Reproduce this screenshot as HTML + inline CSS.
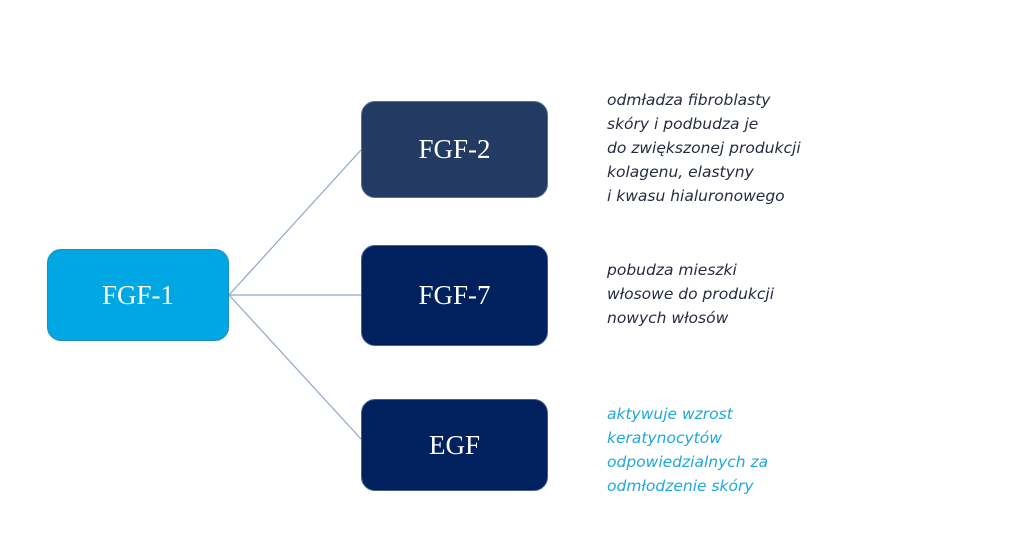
<!DOCTYPE html>
<html><head><meta charset="utf-8"><style>
body{margin:0;width:1024px;height:545px;background:#fff;position:relative;overflow:hidden;font-family:"Liberation Serif",serif}
.b{position:absolute;border-radius:14px;color:#fff;font-size:27px;display:flex;align-items:center;justify-content:center;box-sizing:border-box}
.t{position:absolute;left:607px;font-family:"DejaVu Sans","Liberation Sans",sans-serif;font-style:italic;font-size:15.5px;line-height:24px;color:#262c40}
</style></head><body>
<svg width="1024" height="545" style="position:absolute;left:0;top:0">
<g stroke="#8fa6c8" stroke-width="1.2">
<line x1="229" y1="295" x2="361" y2="150"/>
<line x1="229" y1="295" x2="361" y2="295"/>
<line x1="229" y1="295" x2="361" y2="439"/>
</g></svg>
<div class="b" style="left:47px;top:249px;width:182px;height:92px;background:#00a7e3;border:1px solid #1b8fbf">FGF-1</div>
<div class="b" style="left:361px;top:101px;width:187px;height:97px;background:#233a63;border:1px solid #5a6f95">FGF-2</div>
<div class="b" style="left:361px;top:245px;width:187px;height:101px;background:#00215e;border:1px solid #4a5f8c">FGF-7</div>
<div class="b" style="left:361px;top:399px;width:187px;height:92px;background:#00215e;border:1px solid #4a5f8c">EGF</div>
<div class="t" style="top:88px">odmładza fibroblasty<br>skóry i podbudza je<br>do zwiększonej produkcji<br>kolagenu, elastyny<br>i kwasu hialuronowego</div>
<div class="t" style="top:258px">pobudza mieszki<br>włosowe do produkcji<br>nowych włosów</div>
<div class="t" style="top:402px;color:#1ea8dc">aktywuje wzrost<br>keratynocytów<br>odpowiedzialnych za<br>odmłodzenie skóry</div>
</body></html>
